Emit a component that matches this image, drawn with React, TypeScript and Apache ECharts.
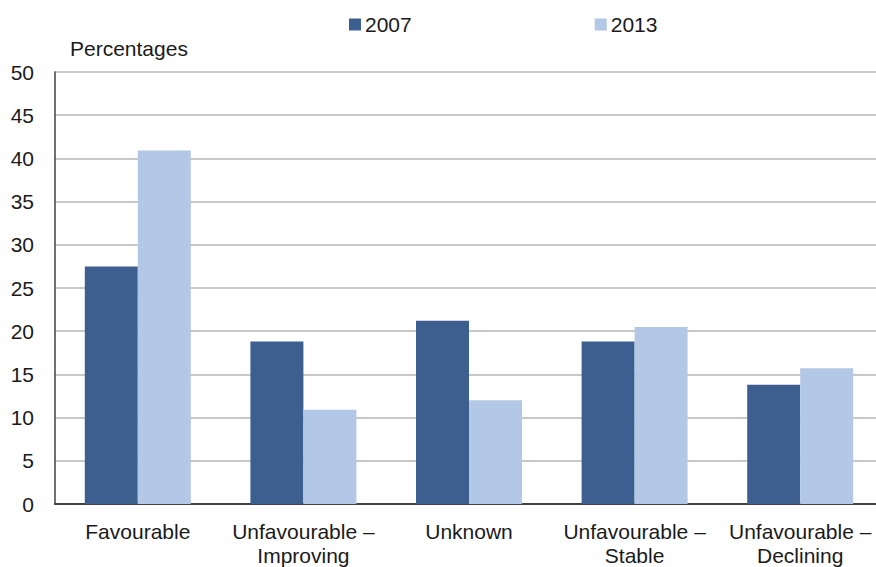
import React, { useEffect, useRef } from "react";
import * as echarts from "echarts";

const categories = [
  "Favourable",
  "Unfavourable –\nImproving",
  "Unknown",
  "Unfavourable –\nStable",
  "Unfavourable –\nDeclining",
];
const values2007 = [27.5, 18.8, 21.2, 18.8, 13.8];
const values2013 = [40.9, 10.9, 12.0, 20.5, 15.7];
const seriesNames = ["2007", "2013"];
const colors = ["#3d5f90", "#b3c8e6"];

const FONT = "'Liberation Sans', Arial, sans-serif";
const FS = 21;

export default function App() {
  const ref = useRef<HTMLDivElement>(null);
  useEffect(() => {
    if (!ref.current) return;
    const chart = echarts.init(ref.current, undefined, { renderer: "svg" });
    chart.setOption({
      animation: false,
      textStyle: { fontFamily: FONT },
      legend: {
        data: seriesNames,
        left: 344,
        top: 9,
        itemWidth: 12,
        itemHeight: 12,
        itemGap: 183,
        icon: "rect",
        textStyle: { fontSize: FS, color: "#1a1a1a", fontFamily: FONT, padding: [0, 0, 0, -1] },
      },
      graphic: [
        {
          type: "text",
          left: 70,
          top: 38,
          style: { text: "Percentages", fontSize: FS, fill: "#1a1a1a", fontFamily: FONT },
        },
      ],
      grid: { left: 55, top: 72, width: 828, height: 433 },
      xAxis: {
        type: "category",
        data: categories,
        axisLine: { lineStyle: { color: "#404040", width: 2 } },
        axisTick: { show: false },
        axisLabel: {
          fontSize: FS,
          color: "#1a1a1a",
          fontFamily: FONT,
          lineHeight: 24,
          margin: 15,
          interval: 0,
        },
      },
      yAxis: {
        type: "value",
        min: 0,
        max: 50,
        interval: 5,
        axisLine: { show: true, lineStyle: { color: "#404040", width: 1.5 } },
        axisTick: { show: false },
        splitLine: { lineStyle: { color: "#c8c8c8", width: 2 } },
        axisLabel: { fontSize: FS, color: "#1a1a1a", fontFamily: FONT, margin: 21 },
      },
      series: [
        {
          name: seriesNames[0],
          type: "bar",
          data: values2007,
          itemStyle: { color: colors[0] },
          barGap: "0%",
          barCategoryGap: "36%",
        },
        {
          name: seriesNames[1],
          type: "bar",
          data: values2013,
          itemStyle: { color: colors[1] },
          barGap: "0%",
          barCategoryGap: "36%",
        },
      ],
    });
    return () => chart.dispose();
  }, []);
  return (
    <div
      ref={ref}
      style={{ position: "fixed", left: 0, top: 0, width: 890, height: 567, background: "#fff" }}
    />
  );
}
